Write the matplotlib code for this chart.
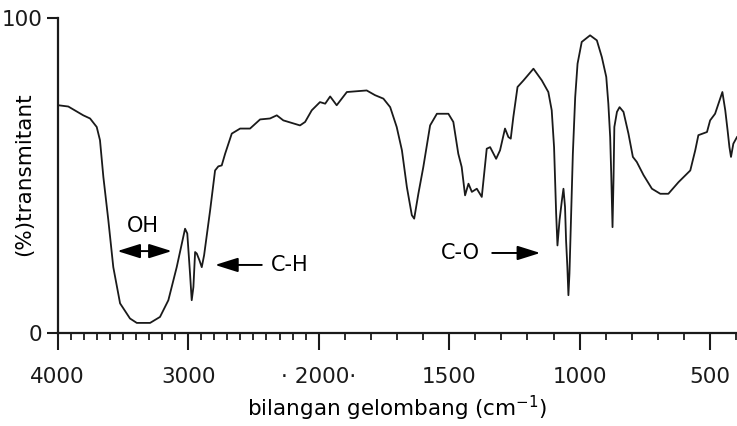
"""IR spectrum with split wavenumber scale (4000-2000 compressed)"""
import matplotlib
matplotlib.use('Agg')
import matplotlib.pyplot as plt
import numpy as np

plt.rcParams['font.family'] = 'DejaVu Sans'
plt.rcParams['mathtext.default'] = 'regular'

# ============================================================================
# SPECTRUM DATA
# ============================================================================
wavenumber = [3995, 3919, 3804, 3752, 3701, 3676, 3650, 3612, 3574, 3522, 3446,
              3394, 3292, 3216, 3152, 3088, 3049, 3024, 3007, 2986, 2973, 2960,
              2947, 2934, 2914, 2896, 2878, 2832, 2794, 2769, 2743, 2717, 2666,
              2602, 2551, 2526, 2449, 2373, 2321, 2271, 2143, 2104, 2053, 1995,
              1975, 1956, 1931, 1892, 1816, 1784, 1752, 1726, 1701, 1681, 1662,
              1643, 1634, 1618, 1599, 1573, 1547, 1503, 1484, 1465, 1452, 1439,
              1426, 1413, 1394, 1375, 1362, 1356, 1343, 1320, 1305, 1286, 1273,
              1264, 1254, 1238, 1215, 1177, 1145, 1120, 1107, 1098, 1090, 1085,
              1077, 1068, 1062, 1056, 1052, 1047, 1043, 1039, 1034, 1026, 1017,
              1008, 992, 960, 934, 915, 898, 890, 883, 879, 874, 870, 867, 857,
              847, 832, 813, 796, 781, 755, 723, 691, 660, 621, 576, 557, 545,
              512, 500, 481, 468, 453, 442, 433, 426, 420, 411, 397]
transmit = [72.4, 72.0, 69.2, 68.2, 65.5, 61.3, 49.6, 35.9, 21.0, 9.5, 4.7,
            3.3, 3.3, 5.2, 10.5, 21.0, 28.5, 33.2, 31.7, 19.0, 10.5, 14.7,
            25.8, 25.3, 23.2, 21.0, 24.8, 39.0, 51.7, 53.0, 53.3, 57.0, 63.4,
            65.0, 65.0, 65.0, 67.9, 68.2, 69.2, 67.6, 66.0, 67.1, 70.8, 73.4,
            72.9, 75.2, 72.4, 76.6, 77.1, 75.6, 74.5, 71.8, 65.5, 58.1, 46.4,
            37.5, 36.4, 44.3, 52.8, 66.0, 69.7, 69.7, 67.1, 57.0, 52.8, 43.8,
            47.5, 44.9, 45.9, 43.3, 53.9, 58.6, 59.1, 55.4, 58.1, 65.0, 62.3,
            61.8, 68.7, 78.2, 80.3, 84.0, 80.3, 76.6, 70.8, 59.1, 38.0, 27.9,
            35.9, 42.2, 45.9, 40.1, 29.5, 21.0, 12.1, 19.0, 33.7, 57.0, 75.0,
            85.6, 92.5, 94.6, 93.0, 87.7, 81.4, 72.9, 62.3, 50.7, 33.7, 49.6, 65.5, 70.3,
            71.8, 70.3, 63.4, 56.0, 54.4, 50.2, 45.9, 44.3, 44.3, 48.0, 51.7, 58.1, 62.9,
            63.9, 67.6, 69.7, 72.9, 76.6, 70.8, 64.4, 59.1, 56.0, 60.2, 62.3]

major_ticks = [4000, 3000, 2000, 1500, 1000, 500]
major_labels = ['4000', '3000', '\u00b7 2000\u00b7', '1500', '1000', '500']
minor_ticks = [w for w in range(400, 4000, 100) if w not in major_ticks]


# scale: above 2000 cm-1 the axis is compressed by a factor of 2
def fwd(w):
    w = np.asarray(w, dtype=float)
    return np.where(w < 2000, w, 2000 + (w - 2000) / 2.0)


def inv(u):
    u = np.asarray(u, dtype=float)
    return np.where(u < 2000, u, 2000 + (u - 2000) * 2.0)


# ============================================================================
# PLOTTING
# ============================================================================
fig = plt.figure(figsize=(7.37, 4.26), dpi=100)
ax = fig.add_axes([0.0783, 0.2176, 0.9217, 0.7394])

ax.plot(wavenumber, transmit, color='#1a1a1a', linewidth=1.3)

ax.set_xscale('function', functions=(fwd, inv))
ax.set_xlim(4000, 397)
ax.set_ylim(0, 100)

ax.set_xticks(major_ticks)
ax.set_xticklabels(major_labels)
ax.set_xticks(minor_ticks, minor=True)
ax.set_yticks([0, 100])

for side in ['top', 'right']:
    ax.spines[side].set_visible(False)
for side in ['left', 'bottom']:
    ax.spines[side].set_linewidth(1.6)
    ax.spines[side].set_color('#1a1a1a')

ax.tick_params(axis='x', which='major', length=12, width=1.5, pad=12,
               labelsize=15.5, colors='#1a1a1a')
ax.tick_params(axis='x', which='minor', length=5, width=1.3, colors='#1a1a1a')
ax.tick_params(axis='y', which='major', length=8, width=1.5, pad=3,
               labelsize=15.5, colors='#1a1a1a')

ax.set_xlabel('bilangan gelombang (cm$^{-1}$)', fontsize=15.5)
ax.xaxis.set_label_coords(0.5, -0.237)
ax.xaxis.label.set_va('center')
ax.set_ylabel('(%)transmitant', fontsize=15.5)
ax.yaxis.set_label_coords(-0.0496, 0.505)
ax.yaxis.label.set_va('center')

# --- ANNOTATIONS ---
arrow_kw = dict(color='black', lw=1.4, shrinkA=0, shrinkB=0, mutation_scale=20)

ax.text(3345, 34, 'OH', ha='center', va='center', fontsize=15)
ax.annotate('', xy=(3126, 26.1), xytext=(3543, 26.1),
            arrowprops=dict(arrowstyle='<|-|>,head_length=0.7,head_width=0.22', **arrow_kw))

ax.annotate('', xy=(2794, 21.7), xytext=(2436, 21.7),
            arrowprops=dict(arrowstyle='-|>,head_length=0.7,head_width=0.22', **arrow_kw))
ax.text(2219, 21.7, 'C-H', ha='center', va='center', fontsize=15)

ax.text(1458, 25.5, 'C-O', ha='center', va='center', fontsize=15)
ax.annotate('', xy=(1151, 25.5), xytext=(1335, 25.5),
            arrowprops=dict(arrowstyle='-|>,head_length=0.7,head_width=0.22', **arrow_kw))

fig.savefig('out.png', dpi=100)
